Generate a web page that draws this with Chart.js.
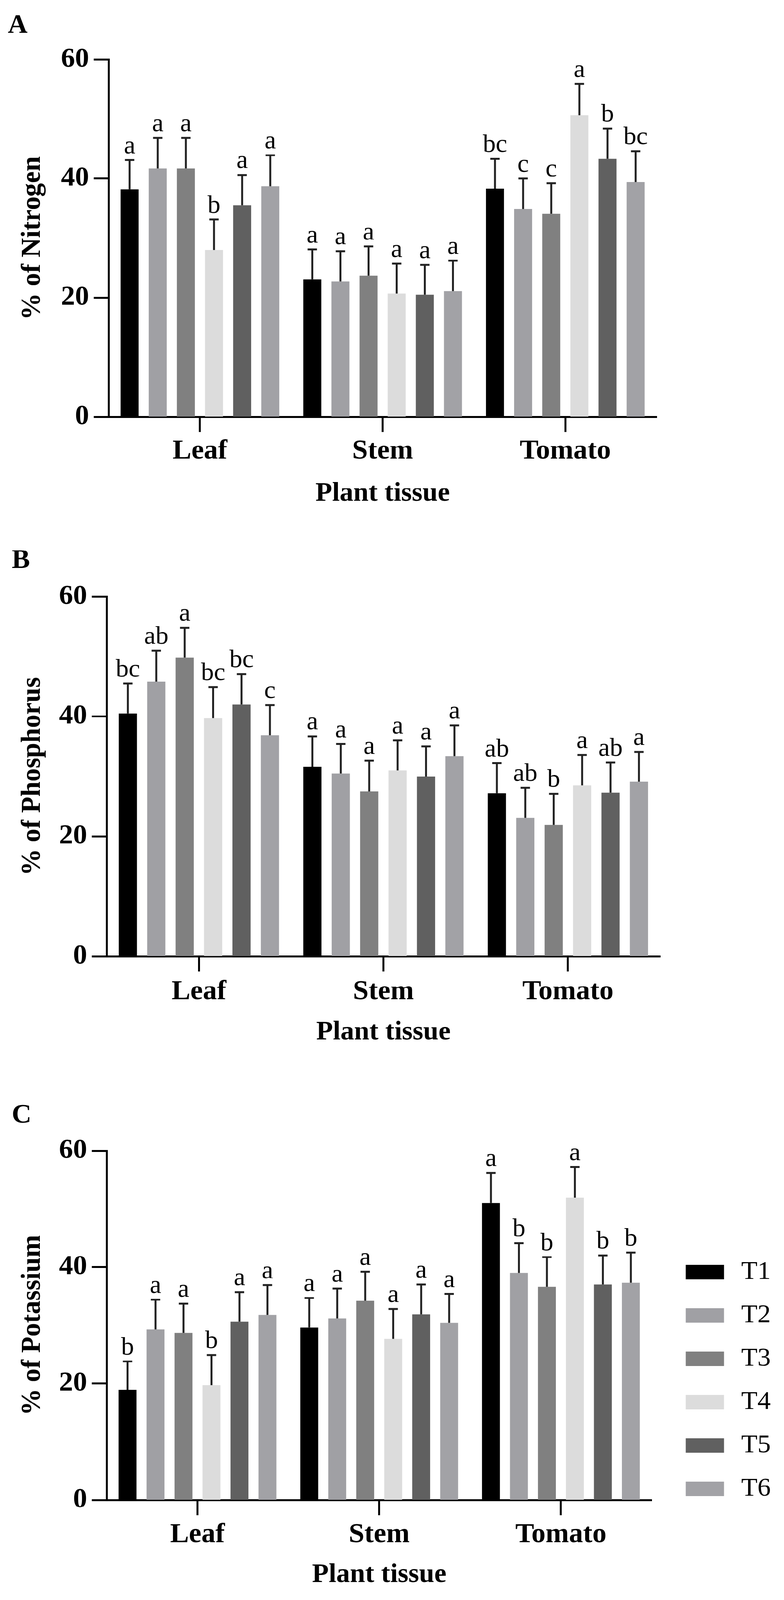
<!DOCTYPE html>
<html>
<head>
<meta charset="utf-8">
<script src="https://cdn.jsdelivr.net/npm/chart.js@4.4.1/dist/chart.umd.min.js"></script>
<style>
  html, body { margin: 0; padding: 0; background: #fff; overflow: hidden; }
  #wrap { position: relative; width: 2007px; height: 4173px; transform-origin: 0 0; }
  canvas { position: absolute; left: 0; }
</style>
</head>
<body>
<div id="wrap">
  <canvas id="chartA" width="2007" height="1390" style="top:0px"></canvas>
  <canvas id="chartB" width="2007" height="1380" style="top:1390px"></canvas>
  <canvas id="chartC" width="2007" height="1403" style="top:2770px"></canvas>
</div>
<script>
const tissues = ['Leaf', 'Stem', 'Tomato'];
const treatments = ['T1', 'T2', 'T3', 'T4', 'T5', 'T6'];
const yTicks = [0, 20, 40, 60];

// one row per treatment, columns = Leaf, Stem, Tomato
const nitrogenMean = [
  [38.2, 23.1, 38.3],
  [41.7, 22.7, 34.9],
  [41.7, 23.7, 34.1],
  [28.0, 20.7, 50.6],
  [35.5, 20.5, 43.3],
  [38.7, 21.1, 39.4]
];
const nitrogenErr = [
  [4.9, 5.0, 5.0],
  [5.1, 5.1, 5.1],
  [5.1, 4.9, 5.1],
  [5.1, 5.0, 5.3],
  [5.1, 5.0, 5.1],
  [5.2, 5.1, 5.2]
];
const nitrogenLetters = [
  ['a', 'a', 'bc'],
  ['a', 'a', 'c'],
  ['a', 'a', 'c'],
  ['b', 'a', 'a'],
  ['a', 'a', 'b'],
  ['a', 'a', 'bc']
];

const phosphorusMean = [
  [40.5, 31.6, 27.2],
  [45.8, 30.5, 23.1],
  [49.8, 27.5, 21.9],
  [39.7, 31.0, 28.5],
  [42.0, 30.0, 27.3],
  [36.9, 33.4, 29.1]
];
const phosphorusErr = [
  [5.0, 5.1, 5.0],
  [5.2, 4.9, 5.0],
  [5.0, 5.1, 5.2],
  [5.2, 5.0, 5.1],
  [5.1, 5.0, 5.0],
  [5.0, 5.1, 5.0]
];
const phosphorusLetters = [
  ['bc', 'a', 'ab'],
  ['ab', 'a', 'ab'],
  ['a', 'a', 'b'],
  ['bc', 'a', 'a'],
  ['bc', 'a', 'ab'],
  ['c', 'a', 'a']
];

const potassiumMean = [
  [18.9, 29.6, 51.0],
  [29.3, 31.2, 39.0],
  [28.7, 34.2, 36.6],
  [19.7, 27.7, 51.9],
  [30.6, 31.9, 37.0],
  [31.8, 30.4, 37.3]
];
const potassiumErr = [
  [4.9, 5.1, 5.2],
  [5.1, 5.1, 5.1],
  [5.0, 5.0, 5.1],
  [5.2, 5.1, 5.3],
  [5.1, 5.1, 5.0],
  [5.1, 5.0, 5.2]
];
const potassiumLetters = [
  ['b', 'a', 'a'],
  ['a', 'a', 'b'],
  ['a', 'a', 'b'],
  ['b', 'a', 'a'],
  ['a', 'a', 'b'],
  ['a', 'a', 'b']
];

const barColors = ['#000000', '#a0a0a4', '#808080', '#dcdcdc', '#606060', '#a2a2a6'];
const FONT = '"Liberation Serif", "Times New Roman", serif';

// the window may be shorter than the figure: squeeze it to fit
const fit = Math.min(1, window.innerHeight / 4173);
document.getElementById('wrap').style.transform = 'scaleY(' + fit + ')';

// error bars (upper half only) and significance letters
const errorBarPlugin = {
  id: 'errorBars',
  afterDatasetsDraw(chart, args, opts) {
    const ctx = chart.ctx;
    const yScale = chart.scales.y;
    ctx.save();
    chart.data.datasets.forEach((ds, i) => {
      const meta = chart.getDatasetMeta(i);
      meta.data.forEach((bar, j) => {
        const top = yScale.getPixelForValue(ds.data[j] + opts.err[i][j]);
        ctx.strokeStyle = '#222';
        ctx.lineWidth = 5;
        ctx.beginPath();
        ctx.moveTo(bar.x, bar.y);
        ctx.lineTo(bar.x, top);
        ctx.moveTo(bar.x - 12, top);
        ctx.lineTo(bar.x + 12, top);
        ctx.stroke();
        ctx.fillStyle = '#000';
        ctx.font = '66px ' + FONT;
        ctx.textAlign = 'center';
        ctx.textBaseline = 'alphabetic';
        ctx.fillText(opts.letters[i][j], bar.x, top - 18);
      });
    });
    ctx.restore();
  }
};

function makeChart(id, p) {
  const scales = {
    x: {
      type: 'category',
      offset: true,
      z: 1,
      grid: { drawOnChartArea: false, offset: false, tickLength: 40, tickWidth: 5, tickColor: '#000' },
      border: { display: true, color: '#000', width: 5 },
      ticks: { color: '#000', font: { family: FONT, size: 72, weight: 'bold' }, padding: p.xTickPad, maxRotation: 0, autoSkip: false },
      title: { display: true, text: 'Plant tissue', color: '#000',
               font: { family: FONT, size: 70, weight: 'bold', lineHeight: 1 },
               padding: { top: 0, bottom: p.xTitlePad } },
      afterFit: s => { s.height = p.axisHeight; }
    },
    y: {
      min: yTicks[0],
      max: yTicks[yTicks.length - 1],
      z: 1,
      afterBuildTicks: s => { s.ticks = yTicks.map(v => ({ value: v })); },
      grid: { drawOnChartArea: false, tickLength: 38, tickWidth: 5, tickColor: '#000' },
      border: { display: true, color: '#000', width: 5 },
      ticks: { color: '#000', font: { family: FONT, size: 72, weight: 'bold' }, padding: 12 },
      title: { display: true, text: p.yTitle, color: '#000',
               font: { family: FONT, size: 70, weight: 'bold', lineHeight: 1 },
               padding: { top: p.yTitlePad, bottom: 0 } },
      afterFit: s => { s.width = p.axisWidth; }
    }
  };
  if (p.legend) {
    // empty spacer between plot and legend
    scales.y2 = {
      position: 'right',
      display: true,
      grid: { display: false },
      border: { display: false },
      ticks: { display: false },
      afterFit: s => { s.width = 42; }
    };
  }

  return new Chart(document.getElementById(id), {
    type: 'bar',
    data: {
      labels: tissues,
      datasets: treatments.map((t, i) => ({
        label: t,
        data: p.mean[i],
        backgroundColor: barColors[i],
        borderWidth: 0,
        barPercentage: 0.64,
        categoryPercentage: 0.924
      }))
    },
    options: {
      responsive: false,
      animation: false,
      devicePixelRatio: 1,
      layout: { padding: { left: p.padLeft, right: p.padRight, top: 0, bottom: 0 } },
      scales: scales,
      plugins: {
        tooltip: { enabled: false },
        title: {
          display: true, text: p.letter, align: 'start', color: '#000',
          font: { family: FONT, size: 70, weight: 'bold', lineHeight: 1 },
          padding: { top: p.letterTop, bottom: p.letterBottom }
        },
        legend: p.legend ? {
          display: true,
          position: 'right',
          align: 'start',
          title: { display: true, text: '', font: { size: 10, lineHeight: 1 }, padding: { top: 459, bottom: 0 } },
          labels: { boxWidth: 98, boxHeight: 38, padding: 45, color: '#000',
                    font: { family: FONT, size: 68 }, textAlign: 'right' }
        } : { display: false },
        errorBars: { err: p.err, letters: p.letters }
      }
    },
    plugins: [errorBarPlugin]
  });
}

makeChart('chartA', {
  letter: 'A', yTitle: '% of Nitrogen',
  mean: nitrogenMean, err: nitrogenErr, letters: nitrogenLetters,
  padLeft: 20, padRight: 326, letterTop: 33, letterBottom: 52,
  axisWidth: 258, axisHeight: 303, yTitlePad: 29, xTitlePad: 67, xTickPad: 7
});

makeChart('chartB', {
  letter: 'B', yTitle: '% of Phosphorus',
  mean: phosphorusMean, err: phosphorusErr, letters: phosphorusLetters,
  padLeft: 30, padRight: 317, letterTop: 38, letterBottom: 58,
  axisWidth: 243, axisHeight: 276, yTitlePad: 19, xTitlePad: 42, xTickPad: 10
});

makeChart('chartC', {
  letter: 'C', yTitle: '% of Potassium',
  mean: potassiumMean, err: potassiumErr, letters: potassiumLetters,
  padLeft: 30, padRight: 34, letterTop: 105, letterBottom: 56,
  axisWidth: 243, axisHeight: 261, yTitlePad: 19, xTitlePad: 30, xTickPad: 8,
  legend: true
});
</script>
</body>
</html>
